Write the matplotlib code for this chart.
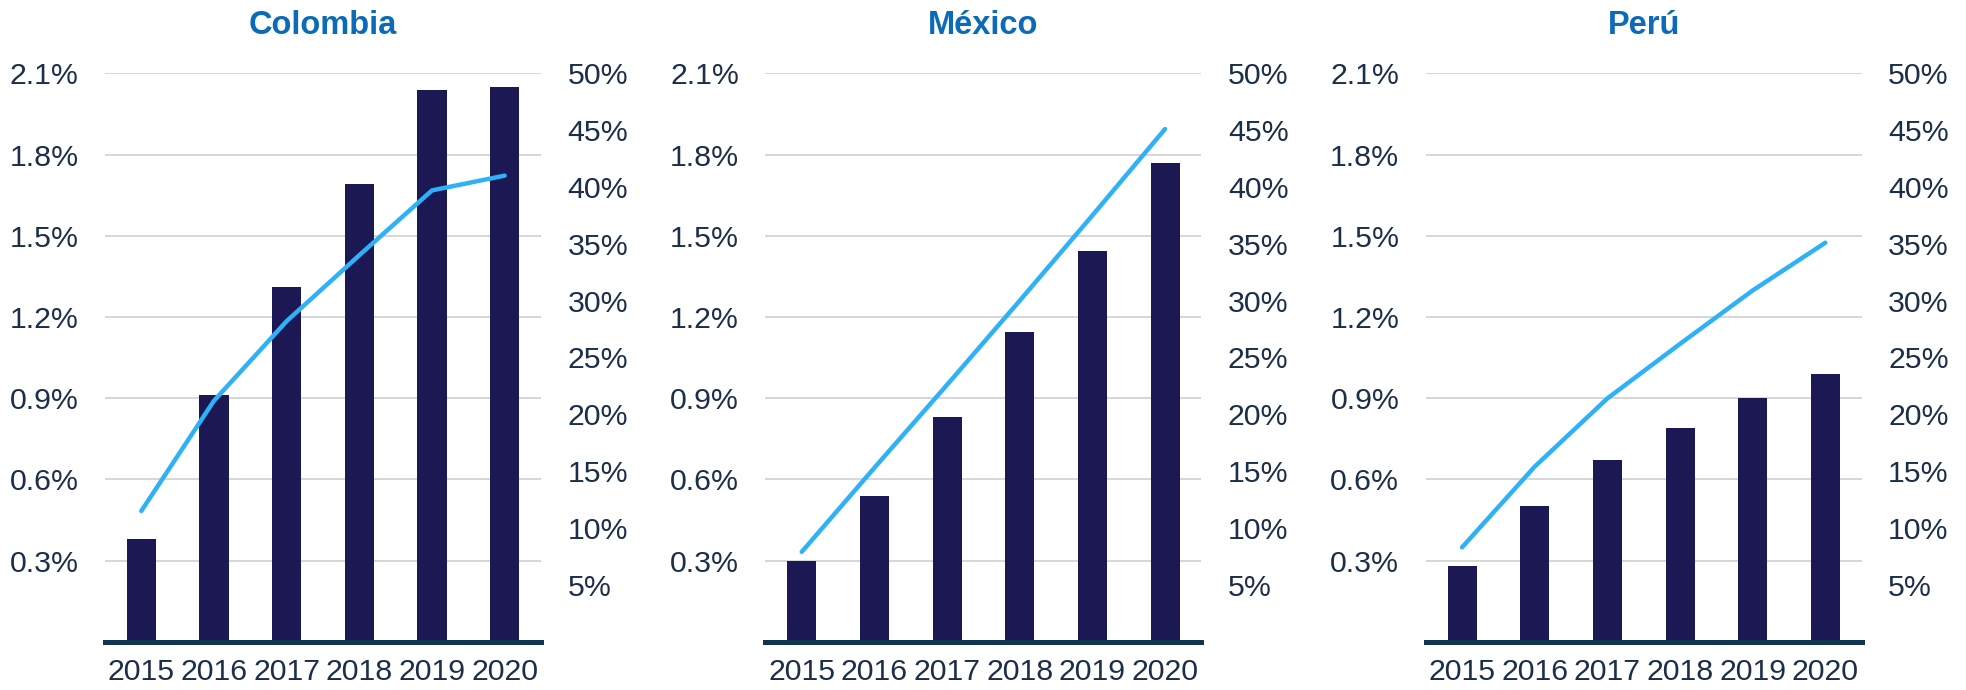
import matplotlib
matplotlib.use("Agg")
import matplotlib.pyplot as plt
from matplotlib.ticker import FuncFormatter

# datos
years = ['2015', '2016', '2017', '2018', '2019', '2020']
paises = ['Colombia', 'México', 'Perú']

# barras (eje izquierdo, %)
col_barras = [0.38, 0.91, 1.31, 1.69, 2.04, 2.05]
mex_barras = [0.30, 0.54, 0.83, 1.145, 1.445, 1.77]
per_barras = [0.28, 0.50, 0.67, 0.79, 0.90, 0.99]

# linea (eje derecho, %)
col_linea = [11.5, 21.2, 28.2, 34.0, 39.7, 41.0]
mex_linea = [7.9, 15.3, 22.6, 30.0, 37.5, 45.1]
per_linea = [8.3, 15.4, 21.4, 26.2, 30.9, 35.1]

izq_ticks = [0.3, 0.6, 0.9, 1.2, 1.5, 1.8, 2.1]
der_ticks = [5, 10, 15, 20, 25, 30, 35, 40, 45, 50]

barras = [col_barras, mex_barras, per_barras]
lineas = [col_linea, mex_linea, per_linea]

c_barra = '#1b1854'
c_linea = '#2fb1f7'
c_texto = '#1c2f48'
c_titulo = '#0b6bb8'
c_base = '#0e3450'

plt.rcParams['font.family'] = ['Liberation Sans', 'DejaVu Sans']

fig = plt.figure(figsize=(19.66, 6.9), dpi=100)
lefts = [105 / 1966, 765.4 / 1966, 1425.7 / 1966]
w = 436 / 1966
bottom = 1 - 641.7 / 690
h = (641.7 - 73.3) / 690

for i in range(3):
    ax = fig.add_axes([lefts[i], bottom, w, h])
    x = list(range(len(years)))
    ax.bar(x, barras[i], width=0.4, color=c_barra, zorder=2)
    ax.set_xlim(-0.5, 5.5)
    ax.set_ylim(0, 2.1)
    ax.set_yticks(izq_ticks)
    ax.yaxis.set_major_formatter(FuncFormatter(lambda v, p: '%.1f%%' % v))
    ax.set_xticks(x)
    ax.set_xticklabels(years)
    ax.grid(axis='y', color='#d0d0d0', linewidth=1.2, zorder=0)
    ax.set_axisbelow(True)
    for s in ['top', 'left', 'right']:
        ax.spines[s].set_visible(False)
    ax.spines['bottom'].set_color(c_base)
    ax.spines['bottom'].set_linewidth(3.6)
    ax.spines['bottom'].set_zorder(3)
    ax.tick_params(axis='y', length=0, pad=19, labelsize=21.8, labelcolor=c_texto)
    ax.tick_params(axis='x', length=0, pad=12, labelsize=21.8, labelcolor=c_texto)
    ax.set_title(paises[i], fontsize=23.5, fontweight='bold', color=c_titulo, pad=28)

    ax2 = ax.twinx()
    ax2.plot(x, lineas[i], color=c_linea, linewidth=3.2, solid_capstyle='round', zorder=4)
    ax2.set_ylim(0, 50)
    ax2.set_yticks(der_ticks)
    ax2.yaxis.set_major_formatter(FuncFormatter(lambda v, p: '%d%%' % v))
    ax2.tick_params(axis='y', length=0, pad=19, labelsize=21.8, labelcolor=c_texto)
    for s in ax2.spines.values():
        s.set_visible(False)

fig.savefig('out.png', dpi=100)
